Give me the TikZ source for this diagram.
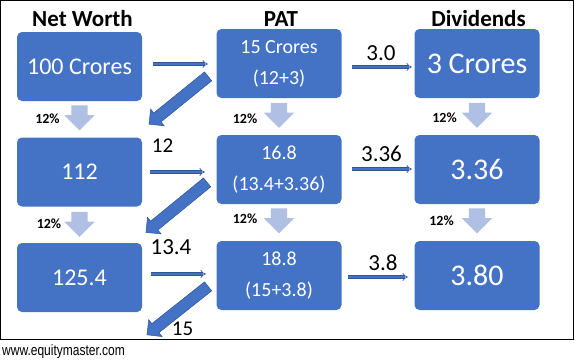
\documentclass[tikz,border=0pt]{standalone}
\usepackage{fontspec}
\setmainfont{Carlito}
\newfontfamily\urlfont{Liberation Sans}
\usetikzlibrary{shapes.arrows,arrows.meta}
\definecolor{boxblue}{HTML}{4472C4}
\definecolor{darkblue}{HTML}{2F5597}
\definecolor{lightblue}{HTML}{B0C0E5}
\begin{document}
\begin{tikzpicture}[x=1pt,y=-1pt,
  box/.style={rectangle, rounded corners=5pt, fill=boxblue, text=white,
    minimum width=125pt, minimum height=69pt, inner sep=0pt, align=center},
  bigtxt/.style={font=\fontsize{24}{28}\selectfont},
  hugetxt/.style={font=\fontsize{30}{34}\selectfont},
  twotxt/.style={font=\fontsize{20}{31}\selectfont},
  title/.style={anchor=base, font=\fontsize{23}{26}\selectfont\bfseries},
  pct/.style={anchor=base, font=\fontsize{14}{16}\selectfont\bfseries},
  lbl/.style={anchor=base, inner sep=0pt, font=\fontsize{23}{26}\selectfont},
  downarr/.style={single arrow, fill=lightblue, draw=none, rotate=-90, anchor=tail,
    minimum height=25pt, single arrow head extend=7pt, inner xsep=0pt, inner ysep=8pt,
    text height=0pt, text depth=0pt},
  diagarr/.style={single arrow, fill=boxblue, draw=darkblue, line width=0.5pt, anchor=tail,
    single arrow head extend=5pt, inner xsep=0pt, inner ysep=5.5pt,
    text height=0pt, text depth=0pt},
  harrow/.style={draw=darkblue, line width=0.7pt, double=boxblue, double distance=2pt, -{Implies}}
]
\useasboundingbox (0,0) rectangle (575,360);
\fill[white] (0,0) rectangle (575,360);
\draw[black, line width=1pt] (0.5,0.5) rectangle (573,339);

% titles
\node[title] (tnw) at (82.5,26) {Net Worth};
\node[title] (tpat) at (281,26) {PAT};
\node[title] (tdiv) at (478.5,26) {Dividends};

% boxes
\node[box, bigtxt] (nw1) at (79.5,66.5) {100 Crores};
\node[box, twotxt] (pat1) at (279,63.5) {15 Crores\\(12+3)};
\node[box, hugetxt] (div1) at (477,63.5) {3 Crores};

\node[box, bigtxt] (nw2) at (79.5,172) {112};
\node[box, twotxt] (pat2) at (279,169.5) {16.8\\(13.4+3.36)};
\node[box, hugetxt] (div2) at (477,169.5) {3.36};

\node[box, bigtxt] (nw3) at (79.5,277.5) {125.4};
\node[box, twotxt] (pat3) at (279,275.5) {18.8\\(15+3.8)};
\node[box, hugetxt] (div3) at (477,275.5) {3.80};

% down arrows
\node[downarr] (d1) at ([yshift=-4pt]nw1.south) {};
\node[downarr] (d2) at ([yshift=-4.5pt]pat1.south) {};
\node[downarr] (d3) at ([yshift=-4.5pt]div1.south) {};
\node[downarr] (d4) at ([yshift=-5pt]nw2.south) {};
\node[downarr] (d5) at ([yshift=-4pt]pat2.south) {};
\node[downarr] (d6) at ([yshift=-4pt]div2.south) {};

% 12% labels
\node[pct] (p1) at (47.5,123.5) {12\%};
\node[pct] (p2) at (245,123) {12\%};
\node[pct] (p3) at (444.5,122.7) {12\%};
\node[pct] (p4) at (49,228.5) {12\%};
\node[pct] (p5) at (245,223.5) {12\%};
\node[pct] (p6) at (441.5,225.5) {12\%};

% horizontal arrows
\draw[harrow] ([xshift=11pt,yshift=2.5pt]nw1.east) -- ([xshift=-8.5pt,yshift=-0.5pt]pat1.west);
\draw[harrow] ([xshift=10.5pt,yshift=-3.5pt]pat1.east) -- ([xshift=-2.5pt,yshift=-3.5pt]div1.west);
\draw[harrow] ([xshift=8pt]nw2.east) -- ([xshift=-11.5pt,yshift=-2.5pt]pat2.west);
\draw[harrow] ([xshift=10.5pt,yshift=0.5pt]pat2.east) -- ([xshift=-2.5pt,yshift=0.5pt]div2.west);
\draw[harrow] ([xshift=9pt,yshift=3.5pt]nw3.east) -- ([xshift=-10.5pt,yshift=1.5pt]pat3.west);
\draw[harrow] ([xshift=6.5pt,yshift=-1.5pt]pat3.east) -- ([xshift=-6.5pt,yshift=-1.5pt]div3.west);

% diagonal arrows
\node[diagarr, rotate=219, minimum height=76pt] (g1) at ([shift={(-8,-22)}]pat1.south west) {};
\node[diagarr, rotate=219.3, minimum height=79pt] (g2) at ([shift={(-9,-22)}]pat2.south west) {};
\node[diagarr, rotate=218.4, minimum height=78pt] (g3) at ([shift={(-8,-24)}]pat3.south west) {};

% arrow labels
\node[lbl] (a1) at (381,60.5) {3.0};
\node[lbl] (a2) at (381.5,161.5) {3.36};
\node[lbl] (a3) at (383,270.5) {3.8};
\node[lbl, font=\fontsize{21}{24}\selectfont] (b1) at (162.5,152.5) {12};
\node[lbl] (b2) at (171,254) {13.4};
\node[lbl, font=\fontsize{21}{24}\selectfont] (b3) at (182.5,335) {15};

% url
\node[anchor=base west, inner sep=0pt] (url) at (2,355)
  {\scalebox{0.8}[1]{\urlfont\fontsize{15}{17}\selectfont www.equitymaster.com}};
\end{tikzpicture}
\end{document}
